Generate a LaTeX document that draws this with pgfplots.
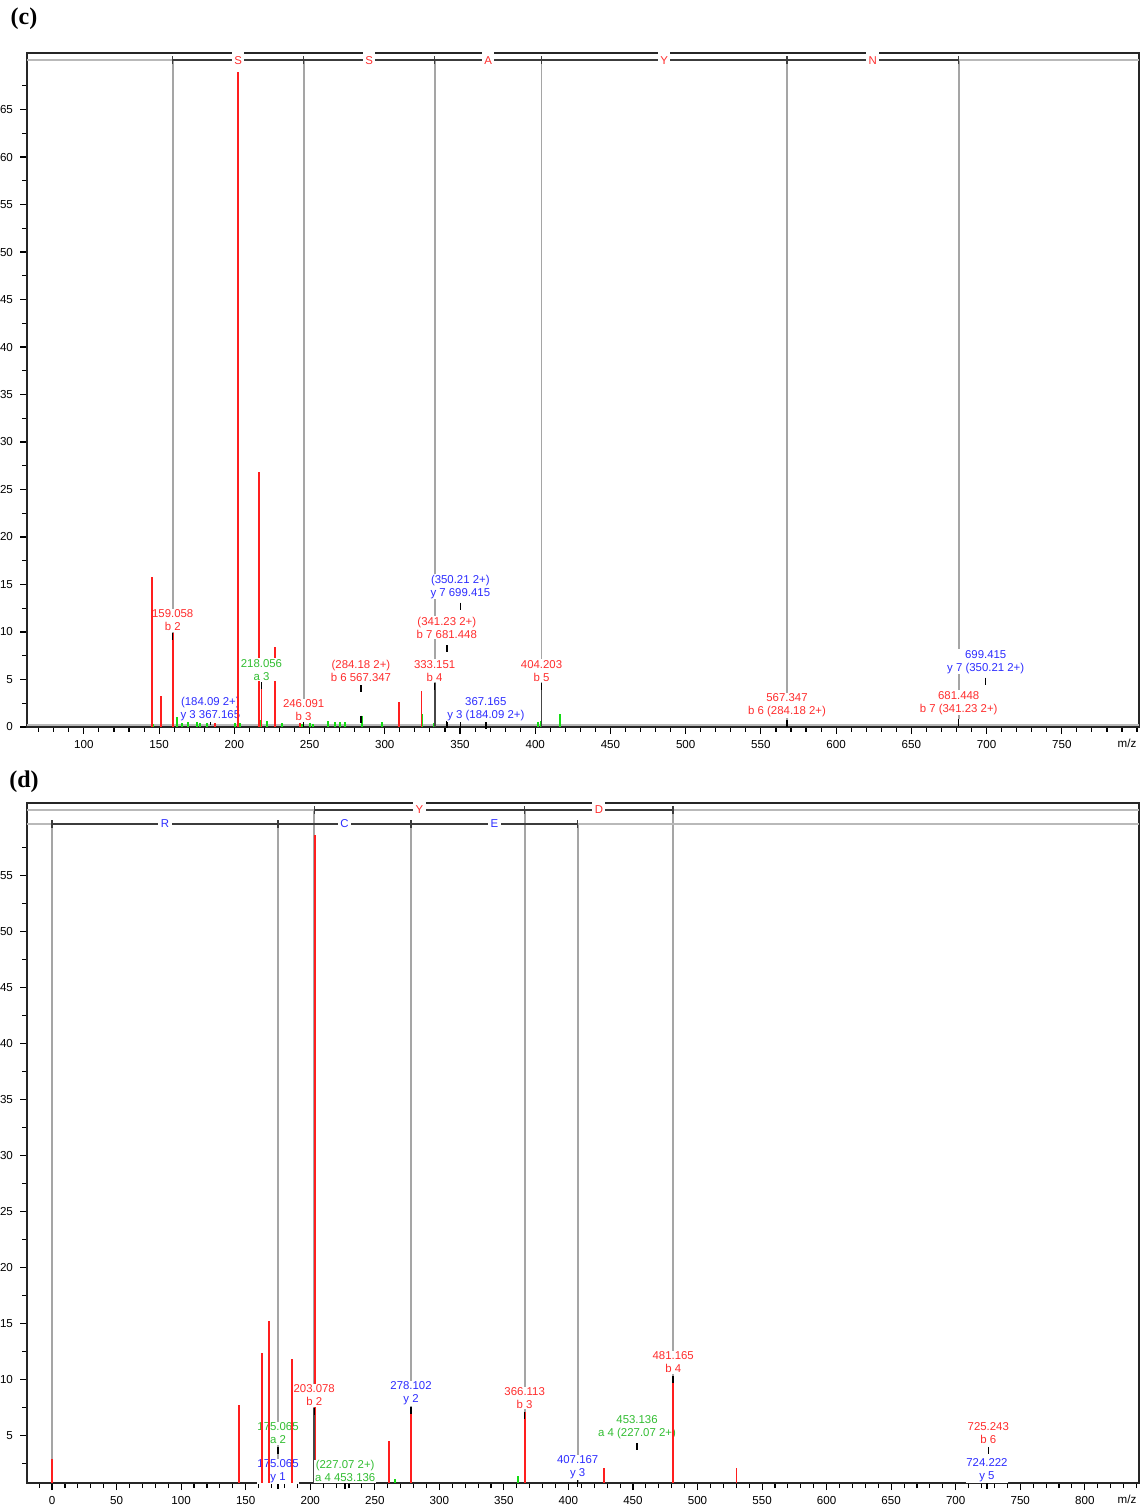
\documentclass[border=0pt]{standalone}
\usepackage{pgfplots}
\pgfplotsset{compat=1.18}
\usepackage{fontspec}
\setmainfont{Liberation Sans}
\newfontfamily\serifbf{Liberation Serif}
\definecolor{pkred}{RGB}{255,30,30}
\definecolor{lred}{RGB}{255,45,45}
\definecolor{lblue}{RGB}{45,45,255}
\definecolor{lgreen}{RGB}{50,190,50}
\definecolor{pkgreen}{RGB}{20,220,20}
\definecolor{vgray}{RGB}{165,165,165}
\definecolor{hdark}{RGB}{60,60,60}
\definecolor{hlight}{RGB}{185,185,185}
\definecolor{pkdark}{RGB}{70,70,70}
\tikzset{
  lbl/.style={anchor=south,align=center,fill=white,inner sep=0.4pt,font=\fontsize{5.7}{6.5}\selectfont},
  hlbl/.style={anchor=center,fill=white,inner xsep=1.2pt,inner ysep=2.3pt,font=\fontsize{5.7}{6}\selectfont},
}
\newcommand{\lab}[4]{\node[lbl,text=#3] at (axis cs:#1,#2) {#4};}
\newcommand{\tk}[2]{\draw[black,line width=0.7pt] (axis cs:#1,#2) -- ++(0pt,-3.5pt);}
\newcommand{\vl}[3]{\draw[vgray,line width=0.9pt] (axis cs:#1,#2) -- (axis cs:#1,#3);}
\newcommand{\et}[2]{\draw[hdark,line width=0.7pt] ([yshift=-2pt]axis cs:#1,#2) -- ([yshift=2pt]axis cs:#1,#2);}
\pgfplotsset{
  msstyle/.style={
    scale only axis, anchor=south west,
    axis line style={black!85,line width=0.9pt},
    clip mode=individual,
    tick align=outside, tick pos=left,
    major tick length=3.5pt, minor tick length=2.5pt,
    every tick/.style={black,line width=0.55pt},
    ticklabel style={font=\fontsize{5.8}{6.5}\selectfont},
    xticklabel style={yshift=0.5pt},
    /pgf/number format/assume math mode=true,
    /pgf/number format/1000 sep={},
    scaled ticks=false,
  }
}
\begin{document}
\begin{tikzpicture}
\useasboundingbox (0,0) rectangle (572.5pt,752.5pt);
\node[font=\serifbf\bfseries\fontsize{12}{12}\selectfont] at (12pt,743pt) {(c)};
\node[font=\serifbf\bfseries\fontsize{12}{12}\selectfont] at (12pt,361.5pt) {(d)};

% ---------------- panel (c)
\begin{axis}[msstyle, at={(13.5pt,389pt)}, width=556pt, height=337pt,
  xmin=62.2, xmax=801.3, ymin=0, ymax=70.95,
  xtick={100,150,...,750}, minor xtick={70,80,...,800},
  ytick={0,5,...,65}, minor ytick={2.5,7.5,...,67.5}]
\draw[hlight,line width=1pt] ([yshift=0.9pt]axis cs:62.2,0) -- ([yshift=0.9pt]axis cs:801.3,0);
% fragment lines
\vl{159.058}{70.2}{9.9}
\vl{246.091}{70.2}{0.6}
\vl{333.151}{70.2}{0}
\vl{404.203}{70.2}{0}
\vl{567.347}{70.2}{0.7}
\vl{681.448}{70.2}{0.8}
% peaks
\addplot[ycomb,pkgreen,line width=0.9pt,mark=none] coordinates {
(146.2,0.3) (161.7,1.0) (165.0,0.4) (169.4,0.5) (175.0,0.5) (177.2,0.4) (182.1,0.4)
(200.5,0.4) (203.8,0.4) (217.5,0.7) (221.5,0.6) (231.5,0.4) (244.8,0.3) (250.3,0.4)
(252.3,0.3) (262.5,0.6) (266.9,0.5) (270.2,0.5) (273.6,0.5) (284.9,1.2) (297.9,0.5)
(324.9,1.4) (332.7,0.4) (341.2,0.4) (401.8,0.5) (403.6,0.6) (416.5,1.4)};
\addplot[ycomb,pkred,line width=0.9pt,mark=none] coordinates {
(145.1,15.8) (151.1,3.3) (159.058,9.9) (187.3,0.4) (202.3,68.9) (216.2,26.8)
(218.056,4.7) (227.0,8.4) (243.5,0.4) (309.7,2.6) (324.4,3.8)};
\addplot[ycomb,pkdark,line width=0.9pt,mark=none] coordinates {
(333.151,4.6) (404.203,4.6)};
% markers
\tk{159.058}{9.9} \tk{218.056}{4.7} \tk{284.18}{4.4} \tk{341.23}{8.6}
\tk{350.21}{13.1} \tk{699.415}{5.2} \tk{333.151}{4.6} \tk{404.203}{4.6}
\tk{184.09}{0.9} \tk{246.091}{0.7} \tk{284.18}{1.2} \tk{341.23}{0.6}
\tk{350.21}{0.5} \tk{367.165}{0.5} \tk{567.347}{0.7} \tk{681.448}{0.8}
% labels
\lab{350.21}{13.4}{lblue}{(350.21 2+)\\y 7 699.415}
\lab{341.23}{9.2}{lred}{(341.23 2+)\\b 7 681.448}
\lab{159.058}{10.0}{lred}{159.058\\b 2}
\lab{218.056}{4.8}{lgreen}{218.056\\a 3}
\lab{284.18}{4.7}{lred}{(284.18 2+)\\b 6 567.347}
\lab{333.151}{4.7}{lred}{333.151\\b 4}
\lab{404.203}{4.7}{lred}{404.203\\b 5}
\lab{184.09}{0.5}{lblue}{(184.09 2+)\\y 3 367.165}
\lab{246.091}{0.5}{lred}{246.091\\b 3}
\lab{367.165}{0.5}{lblue}{367.165\\y 3 (184.09 2+)}
\lab{567.347}{0.9}{lred}{567.347\\b 6 (284.18 2+)}
\lab{681.448}{1.2}{lred}{681.448\\b 7 (341.23 2+)}
\lab{699.415}{5.5}{lblue}{699.415\\y 7 (350.21 2+)}
% peaks seen through labels
\addplot[ycomb,pkred,line width=0.9pt,mark=none] coordinates {(145.1,15.8) (202.3,68.9)};
% header
\draw[hlight,line width=1pt] (axis cs:62.2,70.2) -- (axis cs:159.058,70.2);
\draw[hdark,line width=1pt] (axis cs:159.058,70.2) -- (axis cs:681.448,70.2);
\draw[hlight,line width=1pt] (axis cs:681.448,70.2) -- (axis cs:801.3,70.2);
\et{159.058}{70.2} \et{246.091}{70.2} \et{333.151}{70.2} \et{404.203}{70.2}
\et{567.347}{70.2} \et{681.448}{70.2}
\node[hlbl,text=lred] at (axis cs:202.57,70.2) {S};
\node[hlbl,text=lred] at (axis cs:289.62,70.2) {S};
\node[hlbl,text=lred] at (axis cs:368.68,70.2) {A};
\node[hlbl,text=lred] at (axis cs:485.78,70.2) {Y};
\node[hlbl,text=lred] at (axis cs:624.40,70.2) {N};
\node[anchor=north east,font=\fontsize{5.8}{6.5}\selectfont,inner sep=0pt] at ([yshift=-6pt]rel axis cs:0.998,0) {m/z};
\end{axis}

% ---------------- panel (d)
\begin{axis}[msstyle, at={(13.5pt,11pt)}, width=556pt, height=340pt,
  xmin=-19.4, xmax=842, ymin=0.77, ymax=61.5,
  xtick={0,50,...,800}, minor xtick={-10,0,...,840},
  ytick={5,10,...,55}, minor ytick={2.5,7.5,...,57.5}]
% fragment lines
\vl{0}{59.66}{2.9}
\vl{175.065}{59.66}{0.8}
\vl{203.078}{60.9}{7.5}
\vl{278.102}{59.66}{7.6}
\vl{366.113}{60.9}{7.1}
\vl{407.167}{59.66}{0.9}
\vl{481.165}{60.9}{10.3}
% peaks
\addplot[ycomb,pkgreen,line width=0.9pt,mark=none] coordinates {(265.7,1.1) (361,1.4)};
\addplot[ycomb,pkred,line width=0.9pt,mark=none] coordinates {
(0,2.9) (144.8,7.7) (162.9,12.4) (168.3,15.2) (186.1,11.8) (203.5,58.6)
(261.3,4.5) (278.102,7.6) (366.113,7.1) (427.8,2.1) (481.165,10.3) (530.2,2.1)};
\addplot[ycomb,pkdark,line width=0.9pt,mark=none] coordinates {(203.078,7.5)};
% markers
\tk{175.065}{4.0} \tk{203.078}{7.5} \tk{278.102}{7.6} \tk{366.113}{7.1}
\tk{481.165}{10.3} \tk{453.136}{4.3} \tk{725.243}{4.0} \tk{407.167}{1.0}
\tk{724.222}{0.9} \tk{227.07}{0.9} \tk{175.065}{0.9}
% labels
\lab{175.065}{4.16}{lgreen}{175.065\\a 2}
\lab{175.065}{0.68}{lblue}{175.065\\y 1}
\lab{203.078}{7.56}{lred}{203.078\\b 2}
\lab{227.07}{0.77}{lgreen}{(227.07 2+)\\a 4 453.136}
\lab{278.102}{7.65}{lblue}{278.102\\y 2}
\lab{366.113}{7.3}{lred}{366.113\\b 3}
\lab{407.167}{1.0}{lblue}{407.167\\y 3}
\lab{453.136}{4.6}{lgreen}{453.136\\a 4 (227.07 2+)}
\lab{481.165}{10.5}{lred}{481.165\\b 4}
\lab{725.243}{4.16}{lred}{725.243\\b 6}
\lab{724.222}{0.77}{lblue}{724.222\\y 5}
% peaks seen through labels
\addplot[ycomb,pkred,line width=0.9pt,mark=none] coordinates {
(162.9,12.4) (168.3,15.2) (186.1,11.8) (481.165,9.6)};
% header
\draw[hlight,line width=1pt] (axis cs:-19.4,60.9) -- (axis cs:203.078,60.9);
\draw[hdark,line width=1pt] (axis cs:203.078,60.9) -- (axis cs:481.165,60.9);
\draw[hlight,line width=1pt] (axis cs:481.165,60.9) -- (axis cs:842,60.9);
\draw[hlight,line width=1pt] (axis cs:-19.4,59.66) -- (axis cs:0,59.66);
\draw[hdark,line width=1pt] (axis cs:0,59.66) -- (axis cs:407.167,59.66);
\draw[hlight,line width=1pt] (axis cs:407.167,59.66) -- (axis cs:842,59.66);
\et{203.078}{60.9} \et{366.113}{60.9} \et{481.165}{60.9}
\et{0}{59.66} \et{175.065}{59.66} \et{278.102}{59.66} \et{407.167}{59.66}
\node[hlbl,text=lred] at (axis cs:284.6,60.9) {Y};
\node[hlbl,text=lred] at (axis cs:423.6,60.9) {D};
\node[hlbl,text=lblue] at (axis cs:87.5,59.66) {R};
\node[hlbl,text=lblue] at (axis cs:226.6,59.66) {C};
\node[hlbl,text=lblue] at (axis cs:342.6,59.66) {E};
\node[anchor=north east,font=\fontsize{5.8}{6.5}\selectfont,inner sep=0pt] at ([yshift=-6pt]rel axis cs:0.998,0) {m/z};
\end{axis}
\end{tikzpicture}
\end{document}
